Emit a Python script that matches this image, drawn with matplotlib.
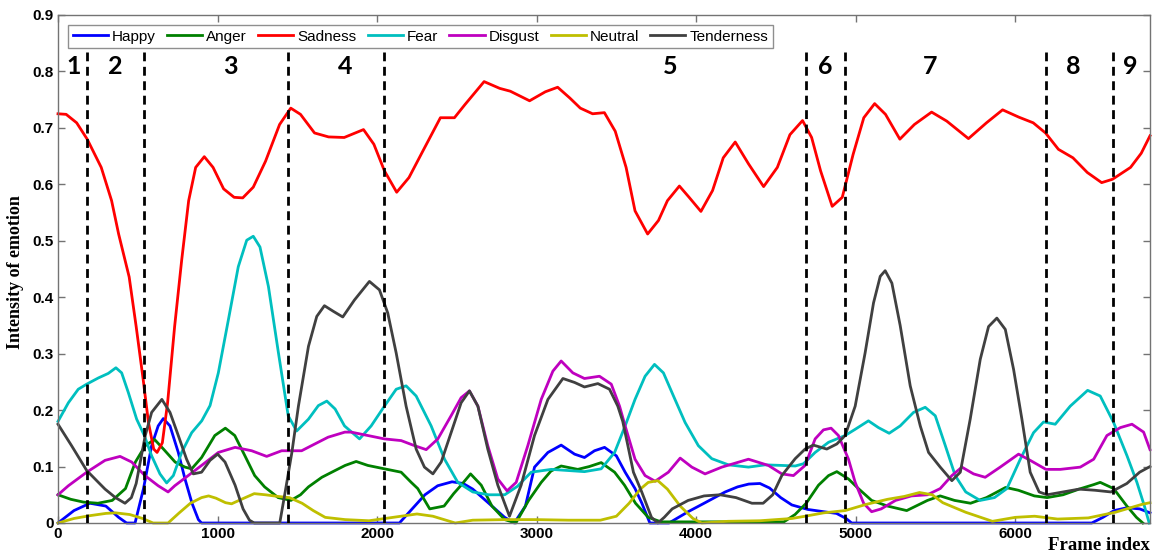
import matplotlib
matplotlib.use('Agg')
import matplotlib.pyplot as plt

# emotion intensity curves over the frame index (x = frame, y = intensity)
happy_x = [0, 100, 200, 300, 380, 430, 483, 536, 587, 628, 660, 702, 754, 796, 840, 880, 900,
           2140, 2220, 2300, 2380, 2470, 2540, 2600, 2700, 2800, 2860, 2930, 2987, 3071, 3154,
           3238, 3300, 3363, 3426, 3500, 3555, 3617, 3660, 3710, 3830, 3950, 4050, 4182, 4260,
           4330, 4400, 4460, 4530, 4600, 4700, 4800, 4880, 4940, 4975, 6480, 6550, 6620, 6700,
           6780, 6845]
happy_y = [0.0, 0.022, 0.035, 0.03, 0.01, 0.0, 0.0, 0.061, 0.137, 0.172, 0.185, 0.172, 0.125,
           0.078, 0.035, 0.006, 0.0,
           0.0, 0.025, 0.05, 0.066, 0.073, 0.07, 0.06, 0.035, 0.01, 0.0, 0.03, 0.099, 0.125, 0.138,
           0.122, 0.116, 0.128, 0.134, 0.119, 0.09, 0.061, 0.035, 0.0, 0.0, 0.02, 0.035, 0.055, 0.064,
           0.069, 0.07, 0.062, 0.045, 0.032, 0.024, 0.02, 0.017, 0.008, 0.0, 0.0, 0.01, 0.022, 0.027,
           0.025, 0.018]

anger_x = [0, 80, 160, 250, 340, 423, 485, 547, 605, 661, 734, 796, 838, 900, 983, 1049, 1108,
           1170, 1233, 1295, 1380, 1460, 1520, 1570, 1654, 1737, 1800, 1869, 1942, 2046, 2151, 2214,
           2255, 2330, 2420, 2480, 2527, 2586, 2653, 2720, 2800, 2870, 2950, 3029, 3090, 3154, 3258,
           3330, 3405, 3489, 3551, 3620, 3700, 3780, 4550, 4620, 4690, 4767, 4830, 4882, 4955, 5017,
           5100, 5200, 5320, 5450, 5530, 5620, 5720, 5820, 5940, 6020, 6120, 6200, 6300, 6400, 6492,
           6533, 6617, 6700, 6760, 6800]
anger_y = [0.05, 0.042, 0.037, 0.035, 0.04, 0.061, 0.108, 0.137, 0.148, 0.131, 0.108, 0.099,
           0.096, 0.116, 0.155, 0.168, 0.155, 0.12, 0.084, 0.064, 0.045, 0.04, 0.05, 0.064, 0.081,
           0.093, 0.102, 0.109, 0.102, 0.096, 0.09, 0.072, 0.061, 0.025, 0.03, 0.052, 0.067, 0.087,
           0.067, 0.03, 0.006, 0.0, 0.04, 0.072, 0.092, 0.101, 0.095, 0.1, 0.107, 0.09, 0.067,
           0.035, 0.01, 0.002, 0.002, 0.015, 0.035, 0.067, 0.084, 0.091, 0.078, 0.061, 0.04, 0.03,
           0.022, 0.04, 0.048, 0.04, 0.035, 0.045, 0.063, 0.058, 0.048, 0.045, 0.05, 0.06, 0.068,
           0.072, 0.061, 0.03, 0.01, 0.0]

sadness_x = [0, 51, 117, 183, 271, 336, 380, 446, 490, 534, 567, 600, 621, 654, 687, 731, 775,
             819, 863, 917, 972, 1038, 1104, 1158, 1224, 1301, 1389, 1459, 1520, 1608, 1696, 1794,
             1915, 1980, 2046, 2123, 2200, 2287, 2397, 2485, 2550, 2671, 2769, 2835, 2956, 3055,
             3132, 3208, 3274, 3351, 3425, 3493, 3561, 3617, 3696, 3764, 3820, 3895, 3956, 4030,
             4103, 4170, 4245, 4329, 4423, 4509, 4588, 4667, 4724, 4780, 4853, 4916, 4984, 5051,
             5119, 5187, 5277, 5368, 5476, 5571, 5707, 5820, 5921, 6023, 6113, 6190, 6271, 6362,
             6452, 6542, 6610, 6723, 6790, 6845]
sadness_y = [0.725, 0.724, 0.709, 0.68, 0.63, 0.571, 0.512, 0.436, 0.348, 0.254, 0.178, 0.131,
             0.125, 0.142, 0.213, 0.348, 0.465, 0.571, 0.63, 0.649, 0.63, 0.592, 0.577, 0.576,
             0.595, 0.641, 0.706, 0.735, 0.724, 0.691, 0.684, 0.683, 0.697, 0.671, 0.624, 0.586,
             0.612, 0.659, 0.718, 0.718, 0.741, 0.782, 0.77, 0.765, 0.748, 0.764, 0.772, 0.753,
             0.735, 0.725, 0.727, 0.694, 0.63, 0.553, 0.512, 0.536, 0.571, 0.597, 0.577, 0.552,
             0.589, 0.647, 0.675, 0.636, 0.596, 0.63, 0.688, 0.713, 0.683, 0.624, 0.561, 0.577,
             0.653, 0.718, 0.743, 0.724, 0.68, 0.706, 0.728, 0.712, 0.681, 0.709, 0.732, 0.719,
             0.709, 0.691, 0.662, 0.647, 0.621, 0.603, 0.609, 0.63, 0.655, 0.686]

fear_x = [0, 65, 127, 180, 253, 315, 363, 399, 441, 493, 541, 587, 639, 681, 723, 775, 838, 901,
          953, 1005, 1068, 1130, 1183, 1224, 1266, 1319, 1382, 1443, 1496, 1570, 1632, 1685, 1737,
          1796, 1890, 1963, 2046, 2120, 2182, 2245, 2339, 2423, 2506, 2600, 2700, 2800, 2880, 2966,
          3092, 3196, 3300, 3405, 3489, 3555, 3617, 3680, 3739, 3795, 3858, 3931, 4014, 4098, 4203,
          4328, 4432, 4537, 4621, 4673, 4746, 4830, 4934, 4997, 5080, 5143, 5210, 5279, 5363, 5436,
          5499, 5562, 5624, 5690, 5780, 5870, 5948, 6032, 6115, 6178, 6251, 6345, 6454, 6533, 6617,
          6701, 6763, 6810, 6840]
fear_y = [0.18, 0.213, 0.237, 0.246, 0.257, 0.265, 0.275, 0.266, 0.231, 0.184, 0.155, 0.119,
          0.087, 0.071, 0.084, 0.125, 0.16, 0.181, 0.208, 0.266, 0.36, 0.454, 0.501, 0.508, 0.489,
          0.419, 0.301, 0.19, 0.163, 0.184, 0.208, 0.216, 0.202, 0.172, 0.149, 0.172, 0.207, 0.237,
          0.243, 0.225, 0.172, 0.113, 0.072, 0.055, 0.05, 0.05, 0.065, 0.09, 0.095, 0.093, 0.091,
          0.096, 0.125, 0.172, 0.219, 0.26, 0.281, 0.266, 0.225, 0.178, 0.137, 0.114, 0.103, 0.099,
          0.103, 0.102, 0.101, 0.105, 0.125, 0.143, 0.155, 0.166, 0.181, 0.169, 0.159, 0.172, 0.196,
          0.205, 0.19, 0.137, 0.084, 0.055, 0.04, 0.045, 0.061, 0.113, 0.16, 0.179, 0.175, 0.207,
          0.235, 0.225, 0.178, 0.119, 0.072, 0.03, 0.0]

disgust_x = [0, 65, 180, 295, 389, 462, 545, 628, 690, 732, 816, 900, 1005, 1110, 1214, 1308,
             1402, 1527, 1589, 1693, 1798, 1838, 1942, 2046, 2151, 2235, 2308, 2381, 2464, 2527,
             2579, 2632, 2694, 2757, 2815, 2872, 2945, 3029, 3102, 3154, 3227, 3300, 3394, 3468,
             3520, 3555, 3617, 3680, 3743, 3826, 3900, 3973, 4056, 4161, 4328, 4453, 4537, 4610,
             4683, 4746, 4798, 4846, 4892, 4955, 4997, 5050, 5100, 5160, 5250, 5350, 5450, 5530,
             5603, 5666, 5739, 5812, 5906, 6021, 6094, 6193, 6283, 6408, 6492, 6575, 6659, 6732,
             6805, 6845]
disgust_y = [0.05, 0.066, 0.09, 0.111, 0.118, 0.108, 0.084, 0.066, 0.055, 0.066, 0.084, 0.102,
             0.125, 0.134, 0.128, 0.118, 0.128, 0.128, 0.137, 0.152, 0.161, 0.161, 0.155, 0.149,
             0.146, 0.137, 0.13, 0.149, 0.19, 0.222, 0.234, 0.207, 0.137, 0.078, 0.057, 0.072,
             0.137, 0.219, 0.269, 0.287, 0.266, 0.256, 0.26, 0.246, 0.207, 0.172, 0.113, 0.084,
             0.074, 0.09, 0.115, 0.099, 0.087, 0.099, 0.113, 0.102, 0.087, 0.084, 0.102, 0.149,
             0.165, 0.168, 0.155, 0.113, 0.072, 0.035, 0.02, 0.025, 0.04, 0.048, 0.05, 0.061,
             0.084, 0.099, 0.087, 0.081, 0.099, 0.122, 0.111, 0.095, 0.095, 0.099, 0.113, 0.155,
             0.169, 0.175, 0.161, 0.13]

neutral_x = [0, 100, 200, 300, 360, 450, 530, 596, 690, 760, 830, 900, 944, 990, 1050, 1088,
             1150, 1230, 1300, 1380, 1450, 1530, 1600, 1675, 1800, 1950, 2050, 2150, 2250, 2350,
             2490, 2600, 2800, 3000, 3200, 3400, 3500, 3580, 3650, 3700, 3760, 3820, 3900, 3980,
             4035, 4200, 4400, 4600, 4683, 4800, 4934, 5066, 5200, 5304, 5400, 5480, 5546, 5690,
             5857, 6000, 6122, 6266, 6458, 6627, 6794, 6845]
neutral_y = [0.0, 0.008, 0.013, 0.017, 0.018, 0.015, 0.008, 0.0, 0.0, 0.018, 0.035, 0.045, 0.048,
             0.044, 0.036, 0.034, 0.042, 0.052, 0.05, 0.047, 0.045, 0.035, 0.022, 0.01, 0.006,
             0.004, 0.008, 0.012, 0.016, 0.012, 0.0, 0.005, 0.006, 0.006, 0.005, 0.005, 0.012,
             0.035, 0.06, 0.072, 0.075, 0.06, 0.03, 0.008, 0.0, 0.003, 0.004, 0.008, 0.012, 0.018,
             0.022, 0.033, 0.042, 0.047, 0.054, 0.05, 0.036, 0.019, 0.003, 0.01, 0.012, 0.007,
             0.009, 0.019, 0.033, 0.036]

tender_x = [0, 85, 180, 253, 295, 360, 420, 460, 490, 547, 587, 651, 702, 754, 806, 848, 900,
            953, 1001, 1047, 1110, 1160, 1200, 1230, 1390, 1424, 1466, 1507, 1570, 1622, 1670,
            1726, 1785, 1858, 1952, 2015, 2067, 2120, 2182, 2245, 2297, 2350, 2402, 2464, 2527,
            2579, 2632, 2694, 2757, 2830, 2903, 2987, 3071, 3165, 3238, 3300, 3384, 3457, 3509,
            3540, 3570, 3607, 3659, 3720, 3760, 3800, 3850, 3950, 4050, 4150, 4250, 4350, 4420,
            4480, 4537, 4621, 4683, 4735, 4819, 4882, 4934, 4997, 5059, 5112, 5154, 5185, 5227,
            5279, 5342, 5405, 5457, 5530, 5603, 5656, 5718, 5781, 5833, 5885, 5938, 5990, 6042,
            6094, 6150, 6200, 6300, 6400, 6500, 6600, 6700, 6780, 6845]
tender_y = [0.175, 0.137, 0.093, 0.072, 0.06, 0.045, 0.035, 0.045, 0.07, 0.155, 0.196, 0.219,
            0.196, 0.155, 0.113, 0.087, 0.09, 0.111, 0.122, 0.108, 0.067, 0.025, 0.005, 0.0, 0.0,
            0.055, 0.125, 0.207, 0.313, 0.366, 0.385, 0.375, 0.365, 0.395, 0.428, 0.413, 0.372,
            0.301, 0.207, 0.131, 0.099, 0.087, 0.108, 0.16, 0.213, 0.234, 0.207, 0.131, 0.067,
            0.012, 0.067, 0.155, 0.219, 0.256, 0.249, 0.241, 0.247, 0.237, 0.207, 0.18, 0.14, 0.09,
            0.055, 0.01, 0.0, 0.01, 0.025, 0.04, 0.048, 0.05, 0.045, 0.035, 0.035, 0.05, 0.084,
            0.114, 0.131, 0.138, 0.131, 0.14, 0.155, 0.207, 0.301, 0.39, 0.437, 0.447, 0.425, 0.35,
            0.243, 0.172, 0.125, 0.099, 0.075, 0.09, 0.184, 0.29, 0.348, 0.363, 0.343, 0.272,
            0.184, 0.09, 0.055, 0.05, 0.055, 0.06, 0.058, 0.055, 0.07, 0.09, 0.1]

series = [
    ('Happy', happy_x, happy_y, (0, 0, 1)),
    ('Anger', anger_x, anger_y, (0, 0.5, 0)),
    ('Sadness', sadness_x, sadness_y, (1, 0, 0)),
    ('Fear', fear_x, fear_y, (0, 0.75, 0.75)),
    ('Disgust', disgust_x, disgust_y, (0.75, 0, 0.75)),
    ('Neutral', neutral_x, neutral_y, (0.75, 0.75, 0)),
    ('Tenderness', tender_x, tender_y, (0.25, 0.25, 0.25)),
]

# segment boundaries and segment numbers
bounds = [183, 541, 1442, 2042, 4690, 4931, 6190, 6615]
seg_labels = ['1', '2', '3', '4', '5', '6', '7', '8', '9']
seg_pos = [100, 357, 1078, 1800, 3837, 4809, 5467, 6364, 6721]

W, H = 1159, 555
fig = plt.figure(figsize=(W / 100, H / 100), dpi=100)
ax = fig.add_axes([58 / W, 1 - 523 / H, (1150 - 58) / W, (523 - 15) / H])

for name, xs, ys, c in series:
    ax.plot(xs, ys, color=c, lw=2.0, label=name, solid_joinstyle='round', clip_on=False)

ax.vlines(bounds, 0, 0.835, colors='k', linestyles=(0, (3.2, 2.0)), lw=2.0, zorder=3)
for lab, xp in zip(seg_labels, seg_pos):
    ax.text(xp, 0.808, lab, ha='center', va='center', fontsize=18, fontweight='bold',
            family=['Lato', 'DejaVu Sans'])

ax.set_xlim(0, 6845)
ax.set_ylim(0, 0.9)
ax.set_xticks(range(0, 7000, 1000))
ax.set_yticks([i / 10 for i in range(10)])
ax.set_yticklabels(['0'] + ['0.%d' % i for i in range(1, 10)])
ax.tick_params(direction='in', length=5, width=1, color='0.45', top=True, right=True,
               labelsize=11, pad=3)
for lab in ax.get_xticklabels() + ax.get_yticklabels():
    lab.set_fontweight('bold')
    lab.set_family(['Liberation Sans', 'DejaVu Sans'])
for sp in ax.spines.values():
    sp.set_color('0.45')
    sp.set_linewidth(1)

fig.text(16 / W, 1 - 272 / H, 'Intensity of emotion', rotation=90, ha='center', va='center',
         fontsize=13, fontweight='bold', family=['Liberation Serif', 'DejaVu Serif'])
fig.text(1150 / W, 1 - 545 / H, 'Frame index', ha='right', va='center',
         fontsize=13.5, fontweight='bold', family=['Liberation Serif', 'DejaVu Serif'])

leg = ax.legend(loc='upper left', bbox_to_anchor=(68 / W, 1 - 25 / H), bbox_transform=fig.transFigure,
                ncol=7, fancybox=False, borderaxespad=0, handlelength=2.3, handletextpad=0.25,
                columnspacing=0.75, borderpad=0.3,
                prop={'family': ['Liberation Sans', 'DejaVu Sans'], 'size': 11})
leg.get_frame().set_edgecolor('0.45')
leg.get_frame().set_linewidth(1)

fig.savefig('out.png', dpi=100)
